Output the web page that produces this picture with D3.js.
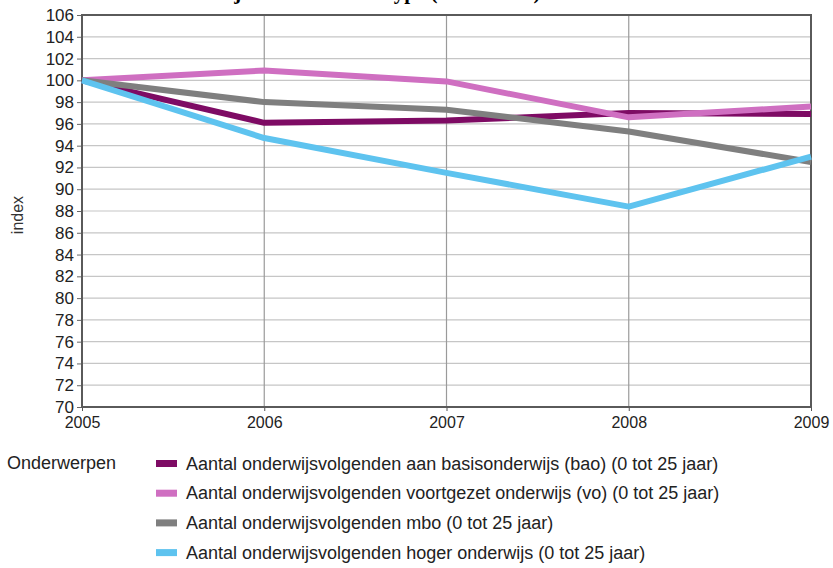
<!DOCTYPE html>
<html>
<head>
<meta charset="utf-8">
<script src="https://cdn.jsdelivr.net/npm/d3@7"></script>
<style>
    body { margin: 0; background: #fff; }
    text { font-family: "Liberation Sans", Arial, sans-serif; }
</style>
</head>
<body>
<div id="chart"></div>
<script>
// data
var years = [2005, 2006, 2007, 2008, 2009];
var yTicks = [70, 72, 74, 76, 78, 80, 82, 84, 86, 88, 90, 92, 94, 96, 98, 100, 102, 104, 106];
var seriesNames = [
    "Aantal onderwijsvolgenden aan basisonderwijs (bao) (0 tot 25 jaar)",
    "Aantal onderwijsvolgenden voortgezet onderwijs (vo) (0 tot 25 jaar)",
    "Aantal onderwijsvolgenden mbo (0 tot 25 jaar)",
    "Aantal onderwijsvolgenden hoger onderwijs (0 tot 25 jaar)"
];
var seriesColors = ["#7e0b64", "#cf6fc1", "#7f7f7f", "#5ec3ef"];
var bao = [100, 96.1, 96.3, 97.0, 96.9];
var vo = [100, 100.9, 99.9, 96.6, 97.6];
var mbo = [100, 98.0, 97.3, 95.3, 92.5];
var hoger = [100, 94.7, 91.5, 88.4, 93.0];
var allSeries = [bao, vo, mbo, hoger];

// set the dimensions and margins of the graph
var margin = { top: 15, right: 22, bottom: 161, left: 82 },
    width = 833 - margin.left - margin.right,
    height = 568 - margin.top - margin.bottom;

var root = d3.select("#chart")
    .append("svg")
    .attr("width", 833)
    .attr("height", 568);

// title, mostly cut off at the top of the picture
root.append("text")
    .attr("x", 155)
    .attr("y", -1)
    .style("font-family", "'Liberation Serif', serif")
    .style("font-weight", "bold")
    .style("font-size", "21px")
    .text("Onderwijsdeelname naar type (2005 = 100)");

var svg = root.append("g")
    .attr("transform", "translate(" + margin.left + "," + margin.top + ")");

// scales
var x = d3.scaleLinear()
    .domain([2005, 2009])
    .range([0, width]);
var y = d3.scaleLinear()
    .domain([70, 106])
    .range([height, 0]);

// horizontal grid
svg.append("g")
    .selectAll("line")
    .data(yTicks)
    .enter()
    .append("line")
    .attr("x1", 0)
    .attr("x2", width)
    .attr("y1", function (d) { return y(d); })
    .attr("y2", function (d) { return y(d); })
    .style("stroke", "#c6c6c6")
    .style("stroke-width", 1.2);

// vertical grid
svg.append("g")
    .selectAll("line")
    .data(years)
    .enter()
    .append("line")
    .attr("x1", function (d) { return x(d); })
    .attr("x2", function (d) { return x(d); })
    .attr("y1", 0)
    .attr("y2", height)
    .style("stroke", "#9a9a9a")
    .style("stroke-width", 1.2);

// Y axis
var yAxis = svg.append("g")
    .call(d3.axisLeft(y).tickValues(yTicks).tickSize(5).tickPadding(3));
yAxis.select(".domain").remove();
yAxis.selectAll("line").style("stroke", "#666");
yAxis.selectAll("text")
    .style("font-size", "17px")
    .style("fill", "#222");

// X axis
var xAxis = svg.append("g")
    .attr("transform", "translate(0," + height + ")")
    .call(d3.axisBottom(x).tickValues(years).tickFormat(d3.format("d")).tickSize(4).tickPadding(6));
xAxis.select(".domain").remove();
xAxis.selectAll("line").style("stroke", "#555");
xAxis.selectAll("text")
    .style("font-size", "16px")
    .style("fill", "#222");

// frame
svg.append("rect")
    .attr("x", 0)
    .attr("y", 0)
    .attr("width", width)
    .attr("height", height)
    .style("fill", "none")
    .style("stroke", "#5a5a5a")
    .style("stroke-width", 2);

// Y axis label
svg.append("text")
    .attr("text-anchor", "middle")
    .attr("transform", "rotate(-90)")
    .attr("x", -(215 - margin.top))
    .attr("y", -margin.left + 23)
    .style("font-size", "16px")
    .style("fill", "#333")
    .text("index");

// lines
var line = d3.line()
    .x(function (d, i) { return x(years[i]); })
    .y(function (d) { return y(d); });

svg.append("g")
    .selectAll("path")
    .data(allSeries)
    .enter()
    .append("path")
    .attr("d", line)
    .style("fill", "none")
    .style("stroke", function (d, i) { return seriesColors[i]; })
    .style("stroke-width", 6)
    .style("stroke-linejoin", "round");

// legend
root.append("text")
    .attr("x", 7)
    .attr("y", 469)
    .style("font-size", "18px")
    .style("fill", "#222")
    .text("Onderwerpen");

var legend = root.append("g")
    .selectAll("g")
    .data(seriesNames)
    .enter()
    .append("g")
    .attr("transform", function (d, i) { return "translate(156," + (463 + i * 29.7) + ")"; });

legend.append("rect")
    .attr("x", 0)
    .attr("y", -3)
    .attr("width", 21)
    .attr("height", 7)
    .style("fill", function (d, i) { return seriesColors[i]; });

legend.append("text")
    .attr("x", 30)
    .attr("y", 6.5)
    .style("font-size", "18px")
    .style("fill", "#222")
    .text(function (d) { return d; });
</script>
</body>
</html>
